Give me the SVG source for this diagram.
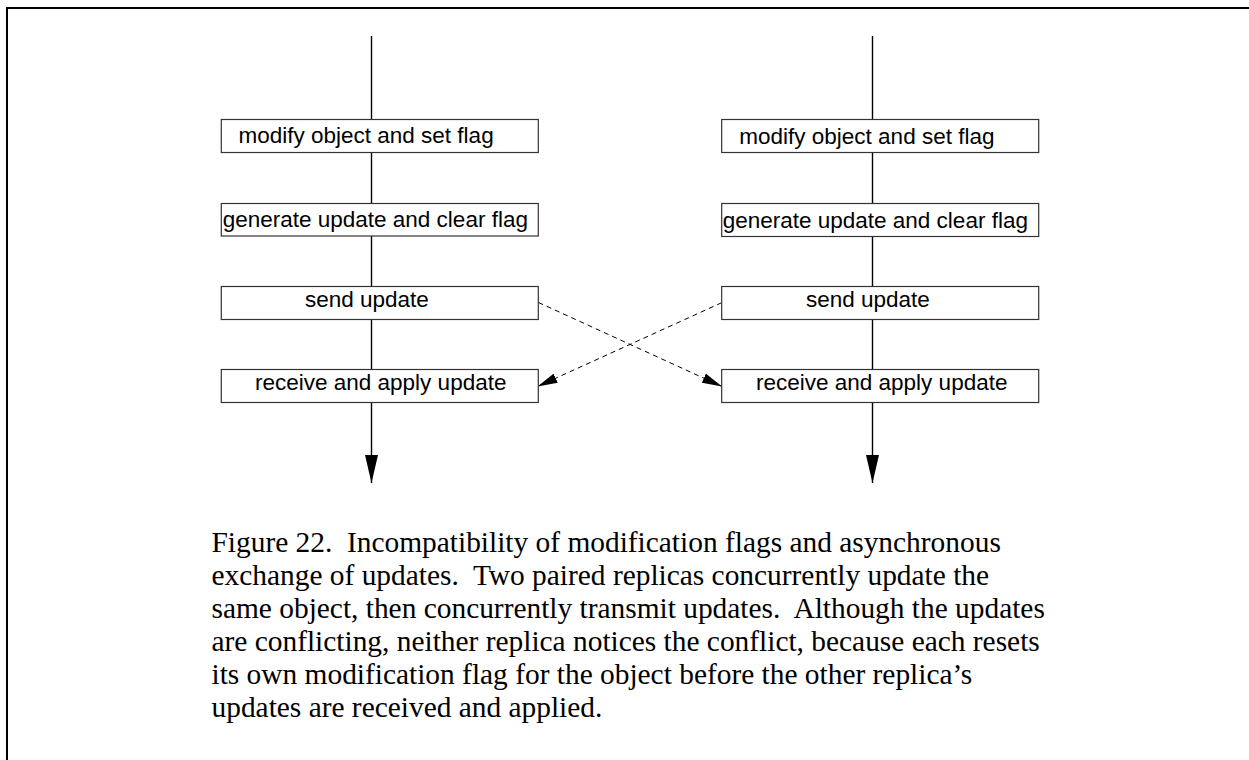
<svg xmlns="http://www.w3.org/2000/svg" width="1249" height="760" viewBox="0 0 1249 760">
  <style>
    .frame { fill: none; stroke: #000; stroke-width: 2; }
    .box { fill: #fff; stroke: #333; stroke-width: 1.2; }
    .lbl { font-family: "Liberation Sans", Arial, sans-serif; font-size: 22.5px; fill: #000; }
    .life { stroke: #000; stroke-width: 1.4; fill: none; }
    .msg { stroke: #000; stroke-width: 1; stroke-dasharray: 5 4; fill: none; }
    .cap { font-family: "Liberation Serif", "Times New Roman", serif; font-size: 29.4px; fill: #000; white-space: pre; }
  </style>
  <defs>
    <marker id="headDown" viewBox="0 0 28 13" refX="28" refY="6.5" markerWidth="28" markerHeight="13" markerUnits="userSpaceOnUse" orient="auto">
      <path d="M0,0 L28,6.5 L0,13 Z" fill="#000"/>
    </marker>
    <marker id="headMsg" viewBox="0 0 20 10" refX="20" refY="5" markerWidth="20" markerHeight="10" markerUnits="userSpaceOnUse" orient="auto">
      <path d="M0,0 L20,5 L0,10 Z" fill="#000"/>
    </marker>
  </defs>

  <rect width="1249" height="760" fill="#fff"/>
  <!-- page frame -->
  <path class="frame" d="M7,760 V8 H1249"/>

  <!-- timelines and update messages -->
  <g id="connectors">
    <line class="life" x1="371.5" y1="36" x2="371.5" y2="119.5"/>
    <line class="life" x1="371.5" y1="152.5" x2="371.5" y2="203.5"/>
    <line class="life" x1="371.5" y1="236" x2="371.5" y2="286.5"/>
    <line class="life" x1="371.5" y1="319.5" x2="371.5" y2="369.5"/>
    <line class="life" x1="371.5" y1="402.5" x2="371.5" y2="483" marker-end="url(#headDown)"/>

    <line class="life" x1="872.5" y1="36" x2="872.5" y2="119.5"/>
    <line class="life" x1="872.5" y1="152.5" x2="872.5" y2="203.5"/>
    <line class="life" x1="872.5" y1="236" x2="872.5" y2="286.5"/>
    <line class="life" x1="872.5" y1="319.5" x2="872.5" y2="369.5"/>
    <line class="life" x1="872.5" y1="402.5" x2="872.5" y2="483" marker-end="url(#headDown)"/>

    <line class="msg" x1="538.5" y1="302.5" x2="722" y2="386.5" marker-end="url(#headMsg)"/>
    <line class="msg" x1="721.7" y1="302.7" x2="537.5" y2="386.5" marker-end="url(#headMsg)"/>
  </g>

  <!-- left replica -->
  <g id="left-modify">
    <rect class="box" x="221.3" y="119.5" width="317" height="33"/>
    <text class="lbl" x="238.5" y="143.3">modify object and set flag</text>
  </g>
  <g id="left-generate">
    <rect class="box" x="221.3" y="203.5" width="317" height="32.5"/>
    <text class="lbl" x="222.7" y="227.3">generate update and clear flag</text>
  </g>
  <g id="left-send">
    <rect class="box" x="221.3" y="286.5" width="317" height="33"/>
    <text class="lbl" x="305" y="306.5">send update</text>
  </g>
  <g id="left-receive">
    <rect class="box" x="221.3" y="369.5" width="317" height="33"/>
    <text class="lbl" x="255" y="389.5">receive and apply update</text>
  </g>

  <!-- right replica -->
  <g id="right-modify">
    <rect class="box" x="721.7" y="119.5" width="317" height="33"/>
    <text class="lbl" x="739.3" y="143.5">modify object and set flag</text>
  </g>
  <g id="right-generate">
    <rect class="box" x="721.7" y="203.5" width="317" height="33"/>
    <text class="lbl" x="722.7" y="227.8">generate update and clear flag</text>
  </g>
  <g id="right-send">
    <rect class="box" x="721.7" y="286.5" width="317" height="33"/>
    <text class="lbl" x="806" y="306.8">send update</text>
  </g>
  <g id="right-receive">
    <rect class="box" x="721.7" y="369.5" width="317" height="33"/>
    <text class="lbl" x="756" y="390">receive and apply update</text>
  </g>

  <!-- caption -->
  <g id="caption">
    <text class="cap" x="211.5" y="551.5">Figure 22.  Incompatibility of modification flags and asynchronous</text>
    <text class="cap" x="211.5" y="584.5">exchange of updates.  Two paired replicas concurrently update the</text>
    <text class="cap" x="211.5" y="617.5">same object, then concurrently transmit updates.  Although the updates</text>
    <text class="cap" x="211.5" y="650.5">are conflicting, neither replica notices the conflict, because each resets</text>
    <text class="cap" x="211.5" y="683.5">its own modification flag for the object before the other replica’s</text>
    <text class="cap" x="211.5" y="716.5">updates are received and applied.</text>
  </g>
</svg>
